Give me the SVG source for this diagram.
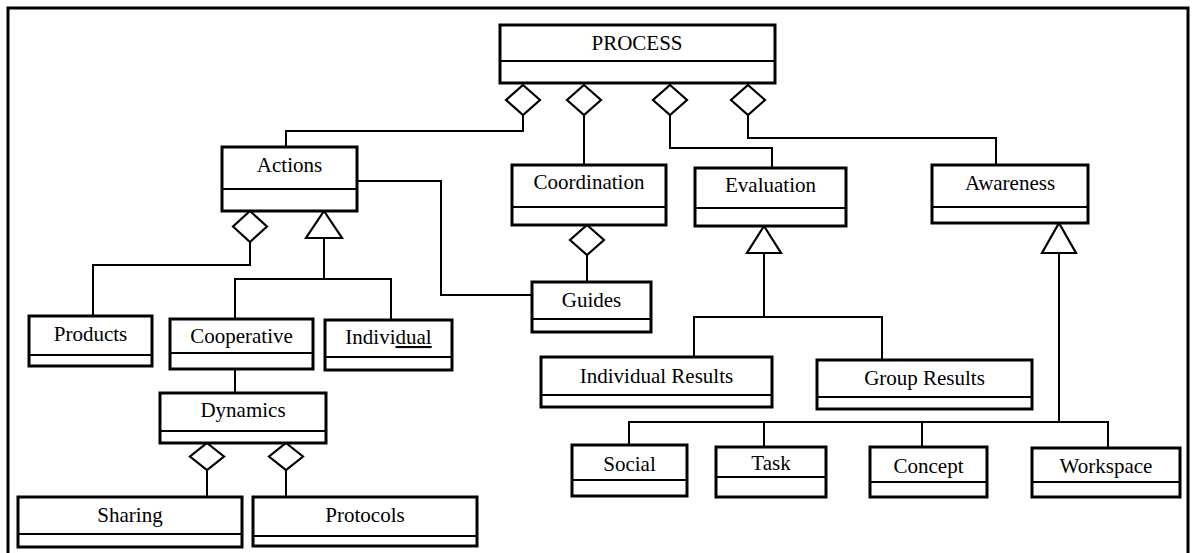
<svg xmlns="http://www.w3.org/2000/svg" width="1195" height="553" viewBox="0 0 1195 553">
<style>
.box{fill:#fff;stroke:#000;stroke-width:3}
.div{stroke:#000;stroke-width:2}
.t{font-family:"Liberation Serif","Times New Roman",serif;font-size:21px;fill:#000;text-anchor:middle}
.c{fill:none;stroke:#000;stroke-width:2}
.head{fill:#fff;stroke:#000;stroke-width:2.2;stroke-linejoin:miter}
</style>
<rect width="1195" height="553" fill="#fff"/>
<path d="M8,553 V8 H1188 V553" fill="none" stroke="#000" stroke-width="3"/>
<g id="connectors">
<path class="c" d="M523,115 V131 H286 V147"/>
<path class="c" d="M584,115 V165"/>
<path class="c" d="M670,115 V148 H772 V168"/>
<path class="c" d="M748,115 V138 H996 V165"/>
<path class="c" d="M357,181 H441 V295 H532"/>
<path class="c" d="M250,242 V265 H93 V316"/>
<path class="c" d="M324,238 V279 M235,319 V279 H391 V320"/>
<path class="c" d="M235,369 V393"/>
<path class="c" d="M207,470 V497 M286,470 V497"/>
<path class="c" d="M587,255 V282"/>
<path class="c" d="M764,253 V317 M694,357 V317 H882 V360"/>
<path class="c" d="M1059,253 V422 M629,445 V422 H1108 V448 M764,422 V447 M922,422 V447"/>
<polygon class="head" points="523,85 540,100 523,115 506,100"/>
<polygon class="head" points="584,85 601,100 584,115 567,100"/>
<polygon class="head" points="670,85 687,100 670,115 653,100"/>
<polygon class="head" points="748,85 765,100 748,115 731,100"/>
<polygon class="head" points="250,211 267,226.5 250,242 233,226.5"/>
<polygon class="head" points="324,211 342,238 306,238"/>
<polygon class="head" points="207,443 224,456.5 207,470 190,456.5"/>
<polygon class="head" points="286,443 303,456.5 286,470 269,456.5"/>
<polygon class="head" points="587,225 604,240 587,255 570,240"/>
<polygon class="head" points="764,226 781,253 747,253"/>
<polygon class="head" points="1059,223 1076,253 1042,253"/>
</g>
<g id="process"><rect class="box" x="500" y="25" width="275" height="58"/><line class="div" x1="500" y1="61" x2="775" y2="61"/><text class="t" x="637" y="50">PROCESS</text></g>
<g id="actions"><rect class="box" x="222" y="147" width="135" height="64"/><line class="div" x1="222" y1="189" x2="357" y2="189"/><text class="t" x="289.5" y="172">Actions</text></g>
<g id="coordination"><rect class="box" x="512" y="165" width="154" height="60"/><line class="div" x1="512" y1="207" x2="666" y2="207"/><text class="t" x="589" y="189">Coordination</text></g>
<g id="evaluation"><rect class="box" x="695" y="168" width="151" height="58"/><line class="div" x1="695" y1="208" x2="846" y2="208"/><text class="t" x="770.5" y="192">Evaluation</text></g>
<g id="awareness"><rect class="box" x="932" y="165" width="156" height="58"/><line class="div" x1="932" y1="207" x2="1088" y2="207"/><text class="t" x="1010" y="190">Awareness</text></g>
<g id="products"><rect class="box" x="29" y="316" width="123" height="50"/><line class="div" x1="29" y1="355" x2="152" y2="355"/><text class="t" x="90.5" y="341">Products</text></g>
<g id="cooperative"><rect class="box" x="170" y="319" width="143" height="50"/><line class="div" x1="170" y1="353" x2="313" y2="353"/><text class="t" x="241.5" y="343">Cooperative</text></g>
<g id="individual"><rect class="box" x="325" y="320" width="127" height="50"/><line class="div" x1="325" y1="357" x2="452" y2="357"/><text class="t" x="388.5" y="344">Indivi<tspan text-decoration="underline">dual</tspan></text></g>
<g id="guides"><rect class="box" x="532" y="282" width="119" height="50"/><line class="div" x1="532" y1="319" x2="651" y2="319"/><text class="t" x="591.5" y="307">Guides</text></g>
<g id="dynamics"><rect class="box" x="160" y="393" width="166" height="50"/><line class="div" x1="160" y1="431" x2="326" y2="431"/><text class="t" x="243" y="417">Dynamics</text></g>
<g id="sharing"><rect class="box" x="18" y="497" width="224" height="50"/><line class="div" x1="18" y1="534" x2="242" y2="534"/><text class="t" x="130" y="522">Sharing</text></g>
<g id="protocols"><rect class="box" x="253" y="497" width="224" height="49"/><line class="div" x1="253" y1="536" x2="477" y2="536"/><text class="t" x="365" y="522">Protocols</text></g>
<g id="individual-results"><rect class="box" x="541" y="357" width="231" height="50"/><line class="div" x1="541" y1="395" x2="772" y2="395"/><text class="t" x="656.5" y="383">Individual Results</text></g>
<g id="group-results"><rect class="box" x="817" y="360" width="215" height="49"/><line class="div" x1="817" y1="397" x2="1032" y2="397"/><text class="t" x="924.5" y="385">Group Results</text></g>
<g id="social"><rect class="box" x="572" y="445" width="115" height="51"/><line class="div" x1="572" y1="480" x2="687" y2="480"/><text class="t" x="629.5" y="471">Social</text></g>
<g id="task"><rect class="box" x="716" y="447" width="110" height="50"/><line class="div" x1="716" y1="477" x2="826" y2="477"/><text class="t" x="771" y="470">Task</text></g>
<g id="concept"><rect class="box" x="870" y="447" width="117" height="50"/><line class="div" x1="870" y1="482" x2="987" y2="482"/><text class="t" x="928.5" y="473">Concept</text></g>
<g id="workspace"><rect class="box" x="1032" y="448" width="148" height="49"/><line class="div" x1="1032" y1="482" x2="1180" y2="482"/><text class="t" x="1106" y="473">Workspace</text></g>
</svg>
